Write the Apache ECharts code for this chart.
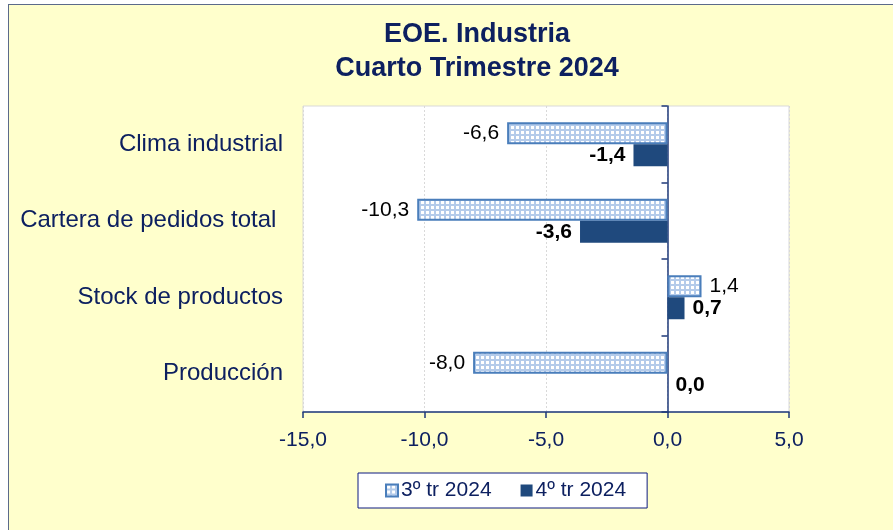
<!DOCTYPE html>
<html><head><meta charset="utf-8">
<script src="https://cdn.jsdelivr.net/npm/echarts/dist/echarts.min.js"></script>
<style>
html,body{margin:0;padding:0;background:#fff;}
#bg{position:absolute;left:8px;top:4px;width:900px;height:540px;background:#FFFFCC;border-left:1px solid #5b6a8a;border-top:1px solid #5b6a8a;}
#c{position:absolute;left:0;top:0;width:893px;height:530px;}
</style>
</head><body>
<div id="bg"></div>
<div id="c"></div>
<script>
const titleLines = ['EOE. Industria', 'Cuarto Trimestre 2024'];
const categories = ['Producción', 'Stock de productos', 'Cartera de pedidos total ', 'Clima industrial'];
const seriesNames = ['3º tr 2024', '4º tr 2024'];
const q3Values = [-8.0, 1.4, -10.3, -6.6];
const q4Values = [0.0, 0.7, -3.6, -1.4];
const xMin = -15, xMax = 5, xInterval = 5;

const FONT = 'Arial, "Liberation Sans", sans-serif';
const NAVY = '#0d2060';

// pattern for 3rd quarter bars
const pc = document.createElement('canvas');
pc.width = 5; pc.height = 5;
const pctx = pc.getContext('2d');
pctx.fillStyle = '#b4cbea';
pctx.fillRect(0, 0, 5, 5);
pctx.fillStyle = '#ffffff';
pctx.fillRect(1, 1, 3, 3);

const fmt = v => v.toFixed(1).replace('.', ',');

const chart = echarts.init(document.getElementById('c'), null, {renderer: 'canvas'});
chart.setOption({
  backgroundColor: 'transparent',
  animation: false,
  title: {
    text: titleLines.join('\n'),
    left: 472, top: 13, textAlign: 'center',
    textStyle: {fontFamily: FONT, fontSize: 27, fontWeight: 'bold', color: NAVY, lineHeight: 34}
  },
  legend: {
    left: 358, top: 473,
    backgroundColor: '#fff', borderColor: '#0d1a80', borderWidth: 1,
    padding: [7, 21, 7, 27],
    icon: 'rect',
    itemWidth: 12, itemHeight: 12, itemGap: 29,
    textStyle: {fontFamily: FONT, fontSize: 21, color: NAVY, padding: [0, 0, 0, -2]},
    data: seriesNames
  },
  grid: {
    left: 303, right: 104, top: 106, bottom: 118,
    show: true, backgroundColor: '#fff', borderColor: '#d9d9d9', borderWidth: 1
  },
  xAxis: {
    type: 'value', min: xMin, max: xMax, interval: xInterval,
    axisLine: {show: true, onZero: false, lineStyle: {color: '#1f3a7a', width: 1.5}},
    axisTick: {show: true, length: 6, lineStyle: {color: '#1f3a7a', width: 1.5}},
    axisLabel: {fontFamily: FONT, fontSize: 21, color: NAVY, margin: 18, formatter: fmt},
    splitLine: {show: true, lineStyle: {color: '#d9d9d9', type: [2, 2]}}
  },
  yAxis: {
    type: 'category', data: categories,
    axisLine: {show: true, onZero: true, lineStyle: {color: '#1f3a7a', width: 1.5}},
    axisTick: {show: true, length: 6, lineStyle: {color: '#1f3a7a', width: 1.5}},
    axisLabel: {fontFamily: FONT, fontSize: 24, color: NAVY, margin: 20}
  },
  series: [
    {
      name: seriesNames[0], type: 'bar', barWidth: 22, barGap: '0%',
      itemStyle: {color: {image: pc, repeat: 'repeat'}, borderColor: '#4a7ebb', borderWidth: 2},
      data: q3Values.map(v => ({value: v, label: {position: v < 0 ? 'left' : 'right'}})),
      label: {show: true, fontFamily: FONT, fontSize: 21, color: '#000', distance: 8, formatter: p => fmt(p.value)}
    },
    {
      name: seriesNames[1], type: 'bar', barWidth: 22, barGap: '0%',
      itemStyle: {color: '#1f497d'},
      data: q4Values.map(v => ({value: v, label: {position: v < 0 ? 'left' : 'right'}})),
      label: {show: true, fontFamily: FONT, fontSize: 21, fontWeight: 'bold', color: '#000', distance: 8, formatter: p => fmt(p.value)}
    }
  ]
});
</script>
</body></html>
